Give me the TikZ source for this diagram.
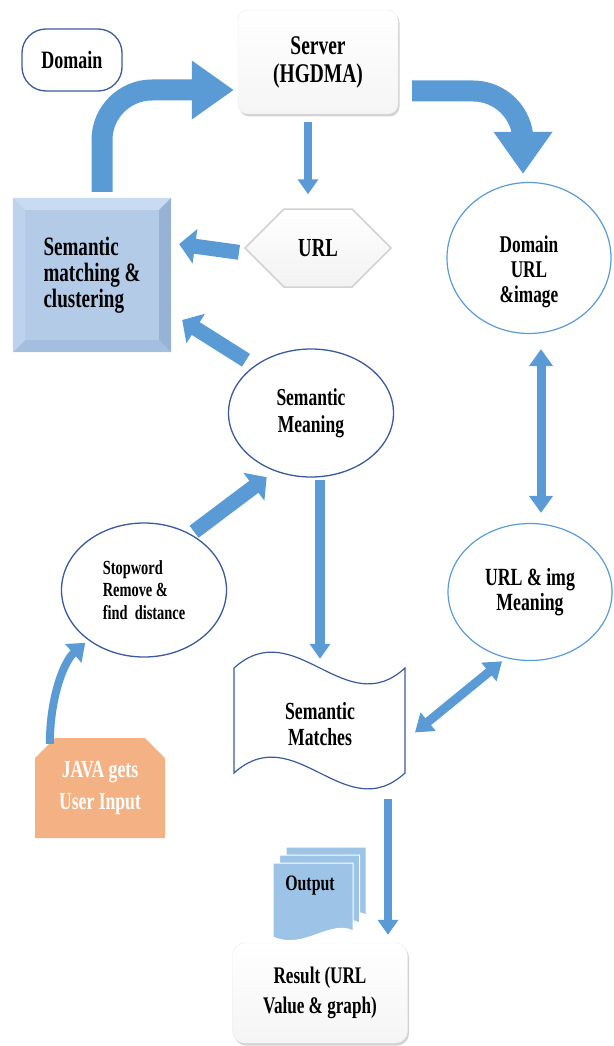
\documentclass[tikz,border=0pt]{standalone}
\usepackage{fontspec}
\setmainfont{Liberation Serif}[FakeStretch=0.72]
\usetikzlibrary{arrows.meta,positioning,calc,shapes.geometric,shapes.misc,shapes.symbols,shadows}

\definecolor{arrowblue}{HTML}{5B9BD5}
\definecolor{darkedge}{HTML}{3A5A9C}
\definecolor{lightedge}{HTML}{5B9BD5}
\definecolor{smcfill}{HTML}{B4CBE8}
\definecolor{smctop}{HTML}{C9DBF0}
\definecolor{smcright}{HTML}{97B2D6}
\definecolor{smcbottom}{HTML}{A4BEDF}
\definecolor{smcleft}{HTML}{BDD2EC}
\definecolor{javafill}{HTML}{F4B183}
\definecolor{outfill}{HTML}{9DC3E6}

\newcommand{\fs}[2]{\fontsize{#1}{#2}\selectfont\bfseries}

\begin{document}
\begin{tikzpicture}[
    x=1pt, y=-1pt,
    ovalnode/.style={ellipse, draw, line width=1.3pt, fill=white, align=center},
    boxnode/.style={rectangle, align=center},
    softbox/.style={boxnode, top color=white, bottom color=gray!8, draw=gray!15, drop shadow={shadow xshift=1.5pt, shadow yshift=-2.5pt, opacity=0.35}},
    bigarr/.style={-{Triangle[length=42pt,width=56pt]}, line width=21pt, arrowblue, rounded corners=50pt},
    medarr/.style={-{Triangle[length=16pt,width=34pt]}, line width=15pt, arrowblue},
    thinarr/.style={-{Triangle[length=15pt,width=20pt]}, line width=8pt, arrowblue},
    dblarr/.style={{Triangle[length=17pt,width=23pt]}-{Triangle[length=17pt,width=23pt]}, line width=9pt, arrowblue},
]
\useasboundingbox (0,0) rectangle (613,1046);

% Top row
\node[boxnode, draw=darkedge, line width=1.3pt, rounded corners=24pt, minimum width=100pt, minimum height=62pt, font=\fs{25}{28}] (domain) at (72,60) {Domain};
\node[softbox, rounded corners=10pt, minimum width=160pt, minimum height=104pt, font=\fs{27}{28}] (server) at (318,62) {Server\\(HGDMA)};

% Second row
\node[signal, signal to=west and east, signal pointer angle=90, minimum width=146pt, minimum height=78pt, top color=white, bottom color=gray!10, draw=gray!35, line width=1.5pt, font=\fs{26}{28}] (url) at (318,248) {URL};
\node[boxnode, fill=smcfill, minimum width=158pt, minimum height=154pt, align=left, font=\fs{26.5}{26}] (smc) at (92,275) {Semantic\\matching \&\\clustering};
\fill[smctop] (smc.north west) -- (smc.north east) -- ([xshift=-12pt,yshift=-12pt]smc.north east) -- ([xshift=12pt,yshift=-12pt]smc.north west) -- cycle;
\fill[smcright] (smc.north east) -- (smc.south east) -- ([xshift=-12pt,yshift=12pt]smc.south east) -- ([xshift=-12pt,yshift=-12pt]smc.north east) -- cycle;
\fill[smcbottom] (smc.south east) -- (smc.south west) -- ([xshift=12pt,yshift=12pt]smc.south west) -- ([xshift=-12pt,yshift=12pt]smc.south east) -- cycle;
\fill[smcleft] (smc.south west) -- (smc.north west) -- ([xshift=12pt,yshift=-12pt]smc.north west) -- ([xshift=12pt,yshift=12pt]smc.south west) -- cycle;
\node[ovalnode, draw=lightedge, line width=1.2pt, minimum width=164pt, minimum height=151pt] (durl) at (529,258) {};
\node[align=center, font=\fs{24}{25}] (durltext) at ([yshift=-14pt]durl.center) {Domain\\URL\\\&image};

% Middle
\node[ovalnode, draw=darkedge, minimum width=165pt, minimum height=128pt, font=\fs{24.3}{27}] (sem) at (311,413) {Semantic\\Meaning};
\node[ovalnode, draw=darkedge, minimum width=165pt, minimum height=134pt, align=left, font=\fs{20}{22.5}] (stop) at (144,590) {Stopword\\Remove \&\\find\ \ distance};
\node[ovalnode, draw=lightedge, line width=1.2pt, minimum width=164pt, minimum height=137pt, font=\fs{24.7}{25}] (uimg) at (530,592) {URL \& img\\Meaning};

% Bottom
\node[boxnode, minimum width=171pt, minimum height=110pt, font=\fs{24.6}{26}] (match) at (320,724) {Semantic\\Matches};
\draw[darkedge, line width=1.2pt] (234,668) .. controls (295,613) and (345,723) .. (405,668) -- (405,773) .. controls (345,828) and (295,718) .. (234,773) -- cycle;
\node[chamfered rectangle, chamfered rectangle corners={north west, north east}, chamfered rectangle xsep=10pt, chamfered rectangle ysep=10pt, fill=javafill, minimum width=130pt, minimum height=100pt, inner sep=0pt, align=center, text=white, font=\fs{24.5}{32}] (java) at (100,788) {JAVA gets\\User Input};
\foreach \dx/\dy in {13/-16, 6.5/-8, 0/0} {
  \filldraw[shift={(\dx,\dy)}, fill=outfill, draw=white, line width=1pt] (273,863) -- (353,863) -- (353,931) .. controls (331,919) and (303,951) .. (273,937) -- cycle;
}
\node[font=\fs{22}{24}] (output) at (310,886) {Output};
\node[softbox, rounded corners=12pt, minimum width=175pt, minimum height=100pt, font=\fs{23.8}{30}] (result) at (320,993) {Result (URL\\Value \& graph)};

% Arrows
\draw[bigarr] ([xshift=10pt,yshift=6pt]smc.north) |- ([xshift=-4pt,yshift=-28pt]server.west);
\draw[bigarr] ([xshift=14pt,yshift=-29pt]server.east) -| ([xshift=-6pt,yshift=8pt]durl.north);
\draw[thinarr, shorten <=8pt, shorten >=14pt] ([xshift=-10pt]server.south) -- ([xshift=-10pt]url.north);
\draw[medarr, shorten <=5pt, shorten >=8pt] ([yshift=-5pt]url.west) -- ([yshift=32pt]smc.east);
\draw[medarr, shorten <=10pt] (sem.140) -- ([xshift=11pt,yshift=-45pt]smc.east);
\draw[medarr, shorten <=4pt, shorten >=10pt] (stop.50) -- (sem.238);
\draw[thinarr, line width=10pt, shorten <=2pt] ([xshift=9pt]sem.south) -- ([yshift=10pt]match.north);
\draw[dblarr, shorten <=15pt, shorten >=10pt] ([xshift=12pt]durl.south) -- ([xshift=11pt]uimg.north);
\draw[dblarr, shorten <=12pt, shorten >=5pt] ([yshift=-16pt]match.east) -- (uimg.250);
\draw[thinarr, shorten <=20pt, shorten >=8pt] ([xshift=68pt]match.south) -- ([xshift=68pt]result.north);
\draw[-{Triangle[length=16pt,width=24pt]}, line width=8pt, arrowblue, shorten >=4pt] ([xshift=5pt,yshift=4pt]java.north west) .. controls +(0,-45) and +(-25,22) .. (stop.222);
\end{tikzpicture}
\end{document}
